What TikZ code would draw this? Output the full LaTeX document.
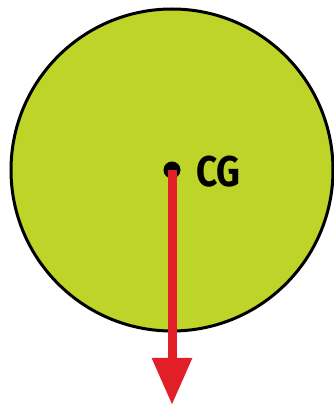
\documentclass[tikz,border=0pt]{standalone}
\usepackage{fontspec}
\newfontfamily\labelfont[FakeStretch=0.86]{Fira Sans}
\usetikzlibrary{arrows.meta}
\definecolor{bodygreen}{RGB}{190,212,40}
\definecolor{forcered}{RGB}{226,30,38}
\tikzset{
  body/.style={circle,draw=black,line width=3pt,fill=bodygreen,minimum size=322pt,inner sep=0pt},
  cgdot/.style={circle,fill=black,minimum size=17pt,inner sep=0pt},
  force/.style={draw=forcered,line width=9pt,-{Triangle[width=38pt,length=47pt]},color=forcered},
  cglabel/.style={anchor=base west,inner sep=0pt,font=\labelfont\bfseries\fontsize{43}{43}\selectfont}
}
\begin{document}
\begin{tikzpicture}[x=1pt,y=1pt]
\useasboundingbox (0,0) rectangle (334,408);
\node[body] (disc) at (172,238) {};
\node[cgdot] (cg) at (172,238) {};
\coordinate (tip) at (172,3);
\draw[force] (cg.center) -- (tip);
\node[cglabel] (lbl) at (196,221) {CG};
\end{tikzpicture}
\end{document}
